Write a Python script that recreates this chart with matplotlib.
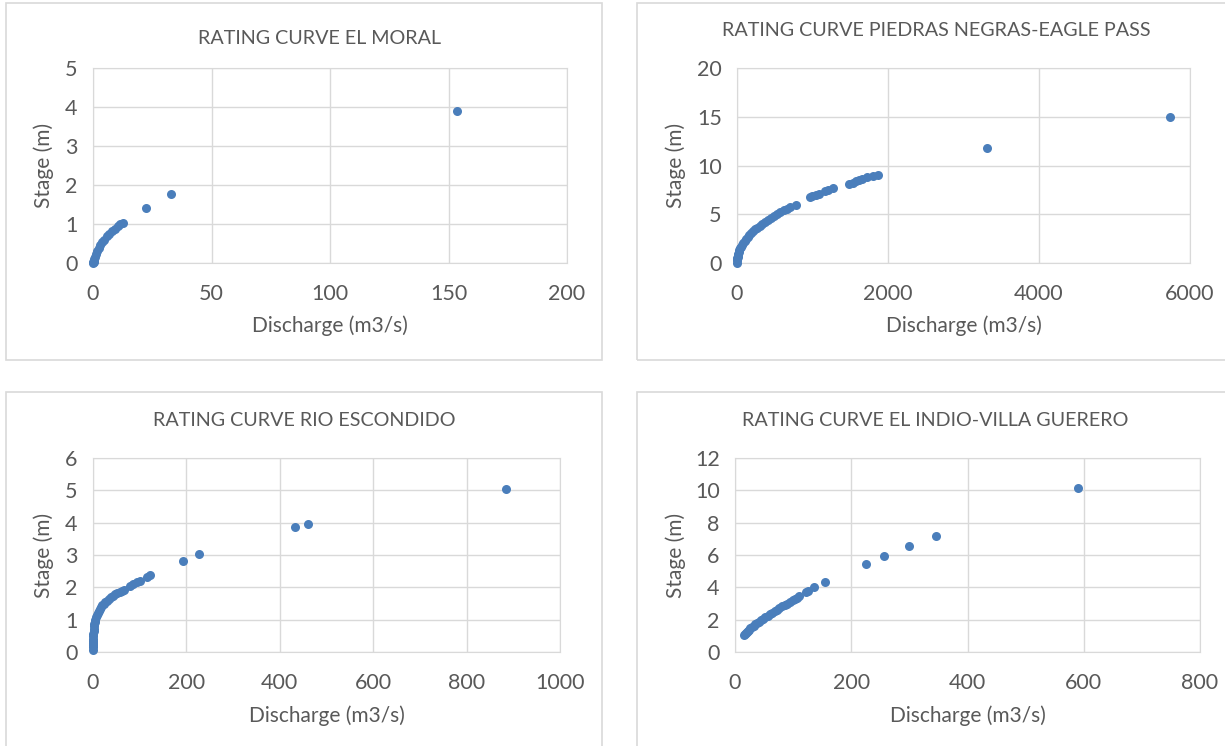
import matplotlib.pyplot as plt
from matplotlib.patches import Rectangle

# discharge (m3/s) and stage (m) per gauging station
moral_q = [0.0, 0.1, 0.3, 0.5, 0.6, 0.9, 1.3, 1.8, 2.4, 3.1, 3.9, 4.8, 5.8,
           6.9, 8.0, 9.2, 10.4, 11.6, 12.8, 22.4, 32.9, 153.6]
moral_h = [0.0, 0.03, 0.06, 0.03, 0.09, 0.15, 0.22, 0.30, 0.38, 0.46, 0.53,
           0.60, 0.68, 0.75, 0.82, 0.88, 0.94, 0.99, 1.03, 1.41, 1.77, 3.90]

piedras_q = [0, 1, 2, 4, 7, 10, 15, 20, 30, 40, 50, 65, 80, 100, 120, 140,
             160, 185, 210, 240, 270, 300, 335, 370, 410, 450, 490, 530, 575,
             620, 660, 700, 785, 971, 993, 1040, 1090, 1170, 1210, 1268,
             1481, 1530, 1580, 1614, 1660, 1725, 1800, 1871, 3311, 5731]
piedras_h = [0.0, 0.26, 0.37, 0.51, 0.66, 0.78, 0.94, 1.08, 1.30, 1.49, 1.66,
             1.88, 2.07, 2.30, 2.50, 2.68, 2.86, 3.05, 3.24, 3.45, 3.64, 3.83,
             4.03, 4.23, 4.43, 4.63, 4.82, 5.01, 5.20, 5.39, 5.56, 5.72, 6.00,
             6.73, 6.87, 7.00, 7.12, 7.38, 7.50, 7.69, 8.10, 8.25, 8.38, 8.50,
             8.62, 8.78, 8.92, 9.02, 11.80, 14.97]

escondido_q = [0, 0, 0.05, 0.1, 0.2, 0.3, 0.5, 0.8, 1.2, 1.7, 2.3, 3.0, 4.0,
               5.0, 6.5, 8, 10, 12, 14.5, 17, 20, 23, 26.5, 30, 34, 38, 42,
               47, 52, 58, 63, 66, 80, 86, 95, 100, 115, 122, 192, 228, 432,
               460, 884]
escondido_h = [0.05, 0.15, 0.22, 0.28, 0.35, 0.40, 0.48, 0.56, 0.64, 0.72,
               0.80, 0.87, 0.94, 1.00, 1.07, 1.13, 1.20, 1.26, 1.32, 1.38,
               1.44, 1.49, 1.54, 1.59, 1.64, 1.69, 1.73, 1.78, 1.82, 1.87,
               1.90, 1.92, 2.04, 2.10, 2.15, 2.20, 2.33, 2.39, 2.81, 3.03,
               3.87, 3.96, 5.04]

indio_q = [16, 17, 18.5, 20, 22, 24, 26.5, 29, 32, 35, 38, 41, 44.5, 48, 52,
           56, 60, 64, 68, 72, 76.5, 81, 85.5, 90, 94.5, 99, 103, 107, 110,
           122, 125, 136, 154, 225, 257, 299, 345, 590]
indio_h = [1.08, 1.13, 1.19, 1.25, 1.32, 1.39, 1.47, 1.55, 1.63, 1.72, 1.80,
           1.88, 1.97, 2.06, 2.15, 2.25, 2.35, 2.44, 2.53, 2.62, 2.72, 2.82,
           2.91, 3.00, 3.10, 3.19, 3.28, 3.36, 3.45, 3.72, 3.80, 4.00, 4.31,
           5.45, 5.96, 6.53, 7.18, 10.12]

W, H = 1225, 746
text_col = '#595959'
line_col = '#d9d9d9'
blue = '#4a7ebb'

plt.rcParams['font.family'] = ['Lato', 'DejaVu Sans']

fig = plt.figure(figsize=(W / 100, H / 100), dpi=100)


def frame(x0, y0, x1, y1):
    fig.patches.append(Rectangle((x0 / W, 1 - y1 / H), (x1 - x0) / W, (y1 - y0) / H,
                                 transform=fig.transFigure, fill=False,
                                 edgecolor=line_col, lw=1.2))


def chart(box, q, h, xmax, xstep, ymax, ystep, title, tpos, ylab_x, xlab_y):
    left, top, right, bottom = box
    ax = fig.add_axes([left / W, 1 - bottom / H, (right - left) / W, (bottom - top) / H])
    ax.plot(q, h, 'o', color=blue, ms=6.5, mew=0, clip_on=False, zorder=3)
    ax.set_xlim(0, xmax)
    ax.set_ylim(0, ymax)
    ax.set_xticks(range(0, xmax + 1, xstep))
    ax.set_yticks(range(0, ymax + 1, ystep))
    ax.grid(True, color=line_col, lw=1)
    ax.set_axisbelow(True)
    for s in ax.spines.values():
        s.set_color(line_col)
    ax.tick_params(length=0, labelsize=15.5, colors=text_col)
    ax.tick_params(axis='x', pad=15)
    ax.tick_params(axis='y', pad=11)
    ax.set_xlabel('Discharge (m3/s)', fontsize=15, color=text_col)
    ax.set_ylabel('Stage (m)', fontsize=15, color=text_col)
    ax.xaxis.set_label_coords(0.5, xlab_y)
    ax.yaxis.set_label_coords(ylab_x, 0.5)
    fig.text(tpos[0] / W, 1 - tpos[1] / H, title, ha='center', va='center',
             fontsize=14.2, color=text_col)
    return ax


frame(6, 3, 602, 360)
frame(637, 3, 1240, 360)
frame(6, 392, 602, 760)
frame(637, 392, 1240, 760)

chart((93, 68, 567, 263), moral_q, moral_h, 200, 50, 5, 1,
      'RATING CURVE EL MORAL', (319, 38), -0.083, -0.27)
chart((737, 68, 1190, 263), piedras_q, piedras_h, 6000, 2000, 20, 5,
      'RATING CURVE PIEDRAS NEGRAS-EAGLE PASS', (936, 30), -0.113, -0.27)
chart((93, 458, 560, 652), escondido_q, escondido_h, 1000, 200, 6, 1,
      'RATING CURVE RIO ESCONDIDO', (304, 420), -0.084, -0.275)
chart((735, 458, 1200, 652), indio_q, indio_h, 800, 200, 12, 2,
      'RATING CURVE EL INDIO-VILLA GUERERO', (935, 420), -0.105, -0.275)

fig.savefig('out.png', dpi=100, facecolor='white')
